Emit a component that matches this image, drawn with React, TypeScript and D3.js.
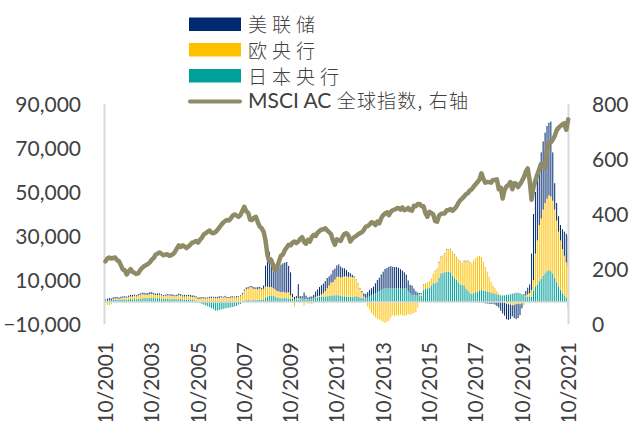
import React from "react";
import * as d3 from "d3";

// Monthly series, 10/2001 – 10/2021 (first row: Oct–Dec 2001, last row: Jan–Oct 2021)
const fedRows = [
  [600, 700, 800],
  [700, 800, 700, 700, 600, 700, 600, 600, 500, 600, 700, 700],
  [600, 500, 600, 600, 700, 800, 700, 800, 900, 800, 700, 600],
  [700, 600, 500, 400, 500, 600, 500, 700, 600, 500, 600, 800],
  [700, 600, 700, 500, 600, 800, 700, 600, 500, 600, 700, 500],
  [600, 500, 400, 600, 500, 400, 500, 600, 700, 500, 400, 600],
  [500, 400, 600, 500, 400, 500, 300, 400, 600, 500, 800, 700],
  [500, 700, 900, 600, 1000, 800, 700, 1500, 9500, 16000, 16000, 13500],
  [9500, 10500, 10000, 11000, 12500, 13000, 13500, 14000, 12000, 10500, 1500, 1000],
  [1000, 6500, 1200, 1000, 3000, 1500, 800, 1000, 900, 1500, 2500, 3000],
  [4000, 4200, 4400, 4500, 4600, 4200, 3800, 5500, 5000, 5200, 5600, 5000],
  [4000, 3700, 2800, 2200, 1600, 1200, 400, 200, 200, 300, 600, 1500],
  [2000, 2500, 3000, 3300, 3500, 4500, 5500, 6000, 7000, 7800, 8800, 9300],
  [9800, 10000, 9800, 9800, 9600, 9300, 8800, 8300, 7300, 6300, 4800, 3800],
  [4300, 2800, 1800, 1000, 600, 300, 200, 100, 100, 0, 100, 0],
  [200, 100, 300, 200, 100, 200, 300, 100, 200, 100, 300, 200],
  [100, 200, 100, 300, 200, 100, 200, 100, 0, -100, -100, -200],
  [-200, -400, -600, -700, -800, -900, -800, -1200, -1800, -2500, -4000, -5200],
  [-6000, -7000, -7200, -6500, -5000, -6000, -6800, -6500, -5000, -2300, 500, 2000],
  [3000, 4000, 16600, 30000, 28000, 28000, 28000, 30000, 31000, 32000, 33000, 33000],
  [34000, 22000, 12000, 8000, 7000, 7000, 9000, 11000, 13000, 14000],
];

const ecbRows = [
  [300, -1300, -1500],
  [-1000, 300, 500, 600, 500, 700, 800, 900, 1000, 1100, 1200, 1300],
  [1500, 1400, 1600, 1800, 1900, 1700, 1500, 1600, 1800, 1700, 1600, 1500],
  [1400, 1600, 1500, 1300, 1400, 1500, 1700, 1600, 1400, 1300, 1500, 1700],
  [1500, 1300, 1400, 1600, 1500, 1300, 1400, 1500, 1600, 1400, 1500, 1700],
  [1600, 1500, 1700, 1800, 1900, 2000, 1800, 1700, 1900, 2100, 2000, 2200],
  [1800, 1900, 2000, 2100, 2000, 2200, 2300, 2600, 3500, 4800, 5000, 5200],
  [6000, 5800, 5000, 5200, 4800, 5000, 4600, 4800, 5000, 4500, 4000, 3800],
  [3500, 3200, 3000, 3000, 2800, 3000, 2600, 2500, 2800, 1500, 800, -2000],
  [400, 600, 300, 200, -1600, 300, -800, -600, -900, -500, 300, 500],
  [500, 1000, 1700, 2500, 3700, 4800, 6000, 6000, 7200, 8300, 8500, 8300],
  [8800, 9000, 9200, 9000, 9200, 9000, 8800, 7500, 6000, 4000, 2500, 600],
  [200, -2000, -3500, -5000, -6000, -7000, -7500, -8000, -8500, -9000, -9500, -9000],
  [-8500, -7000, -6000, -6500, -6000, -6200, -5800, -6000, -6300, -6000, -5500, -5800],
  [-5500, -5000, -4500, -2500, 500, 1000, 2300, 2300, 2500, 3000, 3000, 4500],
  [5500, 6000, 7000, 7500, 7800, 8500, 10000, 10000, 10500, 10700, 10500, 10300],
  [10300, 10500, 10000, 11000, 12500, 14000, 14000, 13500, 15000, 15500, 16000, 15900],
  [15000, 13000, 11000, 9000, 7000, 5000, 3500, 2500, 1500, 800, 300, 100],
  [-200, -800, -1000, -1200, -1500, -1300, -1000, -800, -1000, -600, -1400, 500],
  [1000, 1500, 3000, 5000, 15000, 20000, 25500, 27500, 30000, 32000, 33000, 34000],
  [34000, 33000, 31000, 28000, 25000, 22500, 20000, 18000, 16000, 16000],
];

const bojRows = [
  [400, 800, 1000],
  [900, 1000, 1100, 1000, 900, 1000, 1200, 1100, 1000, 1200, 1300, 1200],
  [1300, 1200, 1400, 1500, 1600, 1700, 1800, 1700, 1800, 1900, 1800, 1700],
  [1800, 1700, 1600, 1500, 1400, 1500, 1300, 1200, 1400, 1300, 1200, 1300],
  [1400, 1200, 1100, 1000, 1200, 1100, 900, 800, 500, -200, -500, -900],
  [-1200, -1500, -1900, -2300, -2800, -3200, -4000, -3900, -3600, -3400, -3200, -2900],
  [-2700, -2600, -2400, -2300, -2000, -1800, -1200, -900, -300, 400, 800, 900],
  [800, 700, 900, 800, 1000, 1100, 1000, 1200, 2000, 2500, 2800, 3000],
  [2800, 2500, 2000, 1800, 1700, 1600, 1800, 1700, 1600, 1500, 1400, 1300],
  [1300, 1000, 1200, 1400, 1300, 1100, 1200, 1400, 1600, 1800, 2000, 2200],
  [2300, 2400, 2300, 2500, 2600, 2700, 2800, 3000, 3000, 3100, 3000, 2800],
  [2600, 2600, 2500, 2400, 2300, 2200, 2500, 2600, 2300, 2100, 1900, 1800],
  [1500, 2000, 2500, 3000, 3500, 4000, 4500, 5000, 5500, 6000, 6200, 6200],
  [6200, 6300, 6200, 6100, 6300, 6200, 6100, 6000, 6200, 6100, 5000, 4000],
  [3200, 3300, 3100, 3200, 3000, 2800, 5500, 6000, 6200, 6500, 7500, 8500],
  [8500, 9000, 11000, 13000, 13200, 13500, 13700, 13800, 13500, 12000, 10800, 10000],
  [9000, 8000, 7700, 7500, 6000, 5000, 4000, 3800, 4000, 4500, 4700, 5000],
  [5500, 5200, 5000, 4800, 4500, 4200, 4000, 3800, 3500, 3200, 3000, 3000],
  [3000, 3200, 3300, 3500, 3800, 4000, 4200, 4200, 4000, 3500, 3000, 2500],
  [2500, 2500, 2400, 5000, 7000, 8000, 9500, 10500, 12000, 13000, 14000, 14500],
  [14000, 13000, 11000, 9000, 7000, 5500, 4000, 3000, 2000, -3000],
];

const msciRows = [
  [228, 238, 242],
  [238, 240, 242, 232, 228, 214, 198, 196, 180, 190, 200, 190],
  [186, 182, 184, 196, 204, 210, 214, 218, 224, 234, 240, 252],
  [256, 260, 256, 250, 252, 254, 248, 250, 254, 262, 274, 286],
  [280, 286, 282, 276, 282, 288, 296, 298, 302, 296, 306, 314],
  [326, 330, 336, 340, 332, 330, 334, 342, 350, 360, 368, 374],
  [378, 376, 384, 394, 398, 394, 390, 396, 412, 426, 410, 404],
  [380, 378, 386, 390, 370, 354, 348, 336, 304, 250, 228, 232],
  [214, 194, 206, 228, 248, 252, 268, 278, 288, 286, 296, 300],
  [294, 300, 310, 316, 298, 292, 306, 300, 316, 324, 320, 332],
  [338, 344, 344, 348, 340, 334, 326, 304, 288, 308, 304, 302],
  [318, 328, 330, 322, 300, 310, 316, 320, 326, 330, 334, 342],
  [354, 356, 362, 370, 368, 360, 372, 366, 384, 396, 402, 406],
  [396, 408, 414, 416, 420, 422, 416, 424, 414, 416, 422, 414],
  [412, 430, 428, 436, 436, 428, 428, 402, 390, 408, 404, 398],
  [374, 372, 394, 400, 402, 402, 414, 414, 418, 412, 418, 426],
  [440, 450, 456, 464, 472, 476, 486, 490, 500, 508, 516, 526],
  [548, 528, 514, 516, 516, 514, 524, 524, 526, 490, 496, 456],
  [488, 500, 506, 516, 490, 512, 510, 498, 508, 520, 534, 554],
  [566, 522, 452, 498, 522, 544, 564, 582, 578, 566, 636, 660],
  [660, 670, 684, 704, 714, 720, 726, 730, 706, 744],
];

const fed = fedRows.flat();
const ecb = ecbRows.flat();
const boj = bojRows.flat();
const msci = msciRows.flat();

const xTickLabels = [
  "10/2001", "10/2003", "10/2005", "10/2007", "10/2009", "10/2011",
  "10/2013", "10/2015", "10/2017", "10/2019", "10/2021",
];
const leftTicks = [90000, 70000, 50000, 30000, 10000, -10000];
const rightTicks = [800, 600, 400, 200, 0];

const COLORS = {
  fed: "#002A70",
  ecb: "#FFC000",
  boj: "#00A09A",
  msci: "#8E8B66",
  axis: "#D9D9D9",
  text: "#404040",
};

const LATIN = "Lato, 'Noto Sans', sans-serif";
const CJK = "'Noto Sans CJK SC', 'Noto Sans', sans-serif";

const W = 630;
const H = 421;
const PLOT = { left: 104.5, right: 568.5, top: 104, bottom: 324 };

export default function App() {
  const n = msci.length;
  const x = d3.scaleLinear().domain([0, n - 1]).range([105.5, 568.2]);
  const yL = d3.scaleLinear().domain([-10000, 90000]).range([PLOT.bottom, PLOT.top]);
  const yR = d3.scaleLinear().domain([0, 800]).range([PLOT.bottom, PLOT.top]);

  const rows = d3.range(n).map((i) => ({ i, boj: boj[i], ecb: ecb[i], fed: fed[i] }));
  const keys = ["boj", "ecb", "fed"];
  const stacked = d3.stack<any>().keys(keys).offset(d3.stackOffsetDiverging)(rows);

  const barW = 1.0;
  const line = d3
    .line<number>()
    .x((_, i) => x(i))
    .y((v) => yR(v));

  const tickIdx = xTickLabels.map((_, k) => k * 24);
  const legendItems = [
    { label: "美联储", color: COLORS.fed, y: 17.5 },
    { label: "欧央行", color: COLORS.ecb, y: 43 },
    { label: "日本央行", color: COLORS.boj, y: 69 },
  ];

  return (
    <svg width={W} height={H} viewBox={`0 0 ${W} ${H}`} style={{ display: "block", position: "absolute", left: 0, top: 0 }}>
      <rect x={0} y={0} width={W} height={H} fill="#ffffff" />

      {/* stacked monthly bars */}
      {stacked.map((layer) => (
        <g key={layer.key} fill={(COLORS as any)[layer.key]}>
          {layer.map((d, i) => {
            const y0 = yL(d[0]);
            const y1 = yL(d[1]);
            const h = Math.abs(y0 - y1);
            if (h < 0.01) return null;
            return <rect key={i} x={x(i) - barW / 2} y={Math.min(y0, y1)} width={barW} height={h} />;
          })}
        </g>
      ))}

      {/* zero line and vertical axes */}
      <line x1={PLOT.left} x2={PLOT.right} y1={yL(0)} y2={yL(0)} stroke={COLORS.axis} strokeWidth={1.6} />
      <line x1={PLOT.left} x2={PLOT.left} y1={PLOT.top} y2={PLOT.bottom} stroke={COLORS.axis} strokeWidth={2} />
      <line x1={PLOT.right} x2={PLOT.right} y1={PLOT.top} y2={PLOT.bottom} stroke={COLORS.axis} strokeWidth={2} />

      {/* MSCI AC world index, right axis */}
      <path d={line(msci) || ""} fill="none" stroke={COLORS.msci} strokeWidth={4.5} strokeLinejoin="round" strokeLinecap="round" />

      {/* left axis labels */}
      {leftTicks.map((t) => (
        <text key={t} x={81} y={yL(t) + 7.5} textAnchor="end" fontFamily={LATIN} fontSize={21} fill={COLORS.text}>
          {d3.format(",")(t)}
        </text>
      ))}

      {/* right axis labels */}
      {rightTicks.map((t) => (
        <text key={t} x={592} y={yR(t) + 7.5} textAnchor="start" fontFamily={LATIN} fontSize={21} fill={COLORS.text}>
          {t}
        </text>
      ))}

      {/* x axis labels */}
      {tickIdx.map((idx, k) => (
        <text
          key={idx}
          transform={`translate(${x(idx) + 7.6},342) rotate(-90)`}
          textAnchor="end"
          fontFamily={LATIN}
          fontSize={21}
          fill={COLORS.text}
        >
          {xTickLabels[k]}
        </text>
      ))}

      {/* legend */}
      {legendItems.map((it) => (
        <g key={it.label}>
          <rect x={189} y={it.y} width={52} height={13.5} fill={it.color} />
          <text x={248} y={it.y + 14.5} fontFamily={CJK} fontSize={19} fontWeight={300} letterSpacing={5} fill={COLORS.text}>
            {it.label}
          </text>
        </g>
      ))}
      <line x1={190} x2={240} y1={101.5} y2={101.5} stroke={COLORS.msci} strokeWidth={4} strokeLinecap="round" />
      <text x={248} y={108.3} fontSize={21} fill={COLORS.text}>
        <tspan fontFamily={LATIN}>MSCI AC </tspan>
        <tspan fontFamily={CJK} fontSize={19} fontWeight={300} letterSpacing={1.2}>全球指数, 右轴</tspan>
      </text>
    </svg>
  );
}
